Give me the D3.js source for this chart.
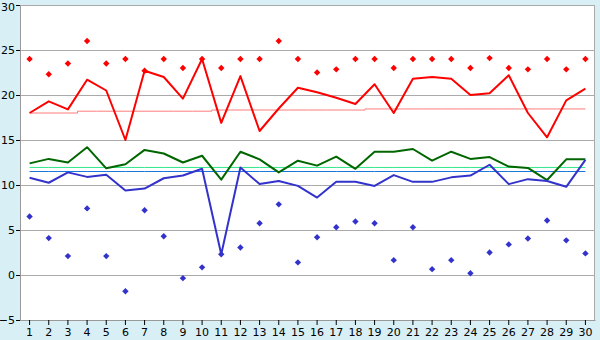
<!DOCTYPE html>
<html>
<head>
<meta charset="utf-8">
<script src="https://cdn.jsdelivr.net/npm/d3@7"></script>
<style>
body { margin: 0; background: #d9eff6; }
svg { display: block; }
.tick text { font-family: "DejaVu Sans", sans-serif; font-size: 11px; fill: #000; }
</style>
</head>
<body>
<script>
var days = d3.range(1, 31);
var yTicks = [-5, 0, 5, 10, 15, 20, 25, 30];

// daily max / mean / min
var maxLine = [18.0, 19.3, 18.4, 21.7, 20.5, 15.0, 22.7, 22.0, 19.6, 24.0,
               16.9, 22.1, 16.0, 18.5, 20.8, 20.3, 19.7, 19.0, 21.2, 18.0,
               21.8, 22.0, 21.8, 20.0, 20.2, 22.2, 18.0, 15.3, 19.4, 20.7];
var meanLine = [12.4, 12.9, 12.5, 14.2, 11.85, 12.3, 13.9, 13.5, 12.5, 13.25,
                10.6, 13.7, 12.85, 11.4, 12.7, 12.15, 13.15, 11.8, 13.7, 13.7,
                14.0, 12.7, 13.7, 12.9, 13.1, 12.05, 11.9, 10.55, 12.85, 12.85];
var minLine = [10.8, 10.25, 11.4, 10.9, 11.15, 9.4, 9.6, 10.75, 11.05, 11.8,
               2.3, 11.95, 10.1, 10.45, 9.9, 8.6, 10.35, 10.35, 9.9, 11.1,
               10.35, 10.35, 10.85, 11.05, 12.25, 10.1, 10.65, 10.45, 9.8, 12.8];
// extremes (diamonds)
var maxDots = [24, 22.3, 23.5, 26, 23.5, 24, 22.7, 24, 23, 24,
               23, 24, 24, 26, 24, 22.5, 22.85, 24, 24, 23,
               24, 24, 24, 23, 24.1, 23, 22.85, 24, 22.85, 24];
var minDots = [6.5, 4.1, 2.1, 7.4, 2.1, -1.8, 7.2, 4.3, -0.35, 0.85,
               2.3, 3.05, 5.75, 7.85, 1.4, 4.2, 5.3, 5.95, 5.75, 1.65,
               5.3, 0.65, 1.65, 0.2, 2.5, 3.4, 4.05, 6.05, 3.85, 2.4];
// normals
var normMax = [18.0, 18.0, 18.0, 18.2, 18.2, 18.2, 18.2, 18.2, 18.2, 18.2,
               18.33, 18.33, 18.33, 18.33, 18.33, 18.33, 18.33, 18.33, 18.45, 18.45,
               18.45, 18.45, 18.45, 18.45, 18.45, 18.45, 18.45, 18.45, 18.45, 18.45];
var normMean = 11.95;
var normMin = 11.5;

var margin = {top: 5, right: 5, bottom: 20, left: 20};
var width = 600 - margin.left - margin.right;
var height = 340 - margin.top - margin.bottom;

var svg = d3.select('body')
    .append('svg')
    .attr('width', 600)
    .attr('height', 340)
  .append('g')
    .attr('transform', 'translate(' + margin.left + ',' + margin.top + ')');

var xScale = d3.scaleBand().domain(days).range([0, width]);
var xPos = function(d){ return xScale(d) + xScale.bandwidth() / 2; };
var yScale = d3.scaleLinear().domain([-5, 30]).range([height, 0]);

svg.append('rect')
    .attr('width', width).attr('height', height)
    .style('fill', '#fff');

svg.selectAll('.grid')
    .data(yTicks)
    .enter().append('line')
    .attr('class', 'grid')
    .attr('x1', 0).attr('x2', width)
    .attr('y1', function(d){ return yScale(d) + 0.5; })
    .attr('y2', function(d){ return yScale(d) + 0.5; })
    .style('stroke', '#aaa');

svg.append('line')
    .attr('x1', width - 0.5).attr('x2', width - 0.5)
    .attr('y1', 0).attr('y2', height)
    .style('stroke', '#aaa');

var xAxis = d3.axisBottom(xScale).tickSize(5).tickSizeOuter(0);
var yAxis = d3.axisLeft(yScale).tickValues(yTicks).tickSize(4).tickSizeOuter(0);

var gx = svg.append('g')
    .attr('transform', 'translate(0,' + height + ')')
    .call(xAxis);
gx.select('.domain').style('stroke', '#999');
gx.selectAll('.tick line').style('stroke', '#000');
gx.selectAll('.tick text').attr('y', 8).attr('dy', '0.71em');

var gy = svg.append('g').call(yAxis);
gy.select('.domain').style('stroke', '#999');
gy.selectAll('.tick line').style('stroke', '#000');
gy.selectAll('.tick text').attr('x', -5)
    .attr('dy', function(d){ return d === 30 ? '0.5em' : '0.32em'; });

function lineOf(vals, curve){
    return d3.line()
        .x(function(d, i){ return xPos(days[i]); })
        .y(function(d){ return yScale(d); })
        .curve(curve || d3.curveLinear)(vals);
}

// normals
svg.append('path').attr('d', lineOf(normMax, d3.curveStep))
    .style('fill', 'none').style('stroke', '#ff7b7b').style('stroke-width', 1);
svg.append('path').attr('d', lineOf(days.map(function(){ return normMean; })))
    .style('fill', 'none').style('stroke', '#2fe68a').style('stroke-width', 1);
svg.append('path').attr('d', lineOf(days.map(function(){ return normMin; })))
    .style('fill', 'none').style('stroke', '#1a78dc').style('stroke-width', 1);

// series lines
[[maxLine, '#ff0000'], [meanLine, '#006600'], [minLine, '#3333cc']].forEach(function(s){
    svg.append('path').attr('d', lineOf(s[0]))
        .style('fill', 'none').style('stroke', s[1]).style('stroke-width', 2)
        .style('stroke-linejoin', 'round');
});

// small square diamonds
var r = 3.2;
var diamond = 'M0,' + (-r) + 'L' + r + ',0L0,' + r + 'L' + (-r) + ',0Z';
[[maxDots, '#ff0000'], [minDots, '#3333cc']].forEach(function(s){
    svg.selectAll(null)
        .data(s[0])
        .enter().append('path')
        .attr('d', diamond)
        .attr('transform', function(d, i){ return 'translate(' + xPos(days[i]) + ',' + yScale(d) + ')'; })
        .style('fill', s[1]);
});
</script>
</body>
</html>
